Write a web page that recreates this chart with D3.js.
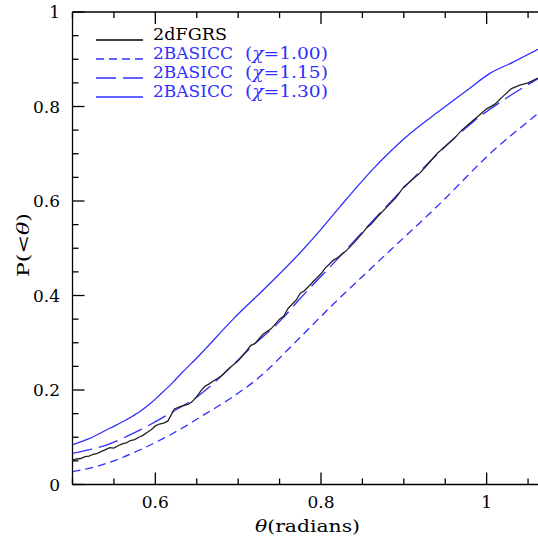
<!DOCTYPE html>
<html>
<head>
<meta charset="utf-8">
<script src="https://cdn.jsdelivr.net/npm/d3@7"></script>
<style>
  html, body { margin: 0; padding: 0; background: #fff; }
  svg { display: block; }
  text { font-family: "DejaVu Serif", serif; }
</style>
</head>
<body>
<svg id="chart" width="538" height="542"></svg>
<script>
// ---------------- data ----------------
const obsTheta = [0.500,0.505,0.510,0.515,0.520,0.525,0.530,0.535,0.540,0.545,0.550,0.555,0.560,0.565,0.570,0.575,0.580,0.585,0.590,0.595,0.600,0.605,0.610,0.615,0.620,0.623,0.630,0.640,0.645,0.650,0.655,0.660,0.665,0.670,0.675,0.680,0.690,0.700,0.710,0.715,0.720,0.730,0.740,0.750,0.755,0.760,0.770,0.775,0.780,0.790,0.800,0.805,0.810,0.815,0.820,0.830,0.840,0.850,0.855,0.860,0.870,0.880,0.890,0.900,0.910,0.920,0.930,0.940,0.950,0.960,0.970,0.980,0.990,1.000,1.010,1.020,1.030,1.040,1.050,1.062];
const obsP = [0.052,0.054,0.055,0.059,0.060,0.064,0.066,0.070,0.074,0.078,0.077,0.082,0.086,0.088,0.093,0.095,0.100,0.104,0.110,0.116,0.124,0.128,0.130,0.134,0.150,0.160,0.165,0.170,0.176,0.186,0.198,0.208,0.213,0.219,0.224,0.230,0.247,0.262,0.282,0.294,0.298,0.318,0.330,0.350,0.356,0.372,0.390,0.405,0.410,0.428,0.446,0.458,0.466,0.475,0.480,0.494,0.512,0.532,0.543,0.550,0.570,0.588,0.606,0.630,0.645,0.660,0.680,0.700,0.716,0.731,0.750,0.765,0.780,0.795,0.805,0.822,0.838,0.845,0.850,0.860];

const chi100Theta = [0.500,0.540,0.581,0.621,0.661,0.693,0.722,0.774,0.815,0.859,0.879,0.944,1.004,1.062];
const chi100P     = [0.027,0.044,0.073,0.108,0.150,0.185,0.222,0.310,0.382,0.455,0.488,0.595,0.700,0.785];

const chi115Theta = [0.500,0.540,0.581,0.621,0.653,0.693,0.714,0.754,0.774,0.815,0.855,0.903,0.944,0.984,1.024,1.062];
const chi115P     = [0.066,0.083,0.115,0.154,0.189,0.252,0.288,0.352,0.392,0.468,0.544,0.633,0.705,0.768,0.818,0.859];

const chi130Theta = [0.500,0.520,0.545,0.565,0.581,0.595,0.605,0.620,0.633,0.653,0.661,0.694,0.734,0.774,0.800,0.823,0.863,0.903,0.944,0.976,1.004,1.032,1.062];
const chi130P     = [0.084,0.097,0.119,0.137,0.154,0.173,0.189,0.214,0.238,0.273,0.288,0.350,0.418,0.489,0.540,0.588,0.668,0.736,0.792,0.834,0.870,0.894,0.921];

const xMajorTicks = [0.6, 0.8, 1.0];
const xTickLabels = ["0.6", "0.8", "1"];
const yMajorTicks = [0, 0.2, 0.4, 0.6, 0.8, 1.0];
const yTickLabels = ["0", "0.2", "0.4", "0.6", "0.8", "1"];

const legendLabels = ["2dFGRS", "2BASICC", "2BASICC", "2BASICC"];
const legendChi = [null, "1.00", "1.15", "1.30"];

// ---------------- layout ----------------
const BLUE = "#2f2fff";
const svg = d3.select("#chart");
const pL = 72.5, pR = 538, pT = 12, pB = 484.5;
const x = d3.scaleLinear().domain([0.5, 1.062]).range([pL, pR]);
const y = d3.scaleLinear().domain([0, 1]).range([pB, pT]);

svg.append("defs").append("clipPath").attr("id", "clip")
  .append("rect").attr("x", pL).attr("y", pT).attr("width", pR - pL).attr("height", pB - pT);

// frame
const frame = svg.append("g").attr("stroke", "#000").attr("stroke-width", 1.3).attr("fill", "none");
frame.append("line").attr("x1", pL).attr("x2", pR).attr("y1", pB).attr("y2", pB);
frame.append("line").attr("x1", pL).attr("x2", pR).attr("y1", pT).attr("y2", pT);
frame.append("line").attr("x1", pL).attr("x2", pL).attr("y1", pT).attr("y2", pB);

// ticks
const xMinor = d3.range(0.5, 1.0621, 0.05).map(v => +v.toFixed(2)).filter(v => !xMajorTicks.some(m => Math.abs(m - v) < 1e-6));
const yMinor = d3.range(0, 1.0001, 0.05).map(v => +v.toFixed(2)).filter(v => !yMajorTicks.some(m => Math.abs(m - v) < 1e-6));
const tg = svg.append("g").attr("stroke", "#000").attr("stroke-width", 1.3);
function xTick(v, len) {
  tg.append("line").attr("x1", x(v)).attr("x2", x(v)).attr("y1", pB).attr("y2", pB - len);
  tg.append("line").attr("x1", x(v)).attr("x2", x(v)).attr("y1", pT).attr("y2", pT + len);
}
function yTick(v, len) {
  tg.append("line").attr("x1", pL).attr("x2", pL + len).attr("y1", y(v)).attr("y2", y(v));
}
xMajorTicks.forEach(v => xTick(v, 12));
xMinor.forEach(v => xTick(v, 6));
yMajorTicks.forEach(v => yTick(v, 12));
yMinor.forEach(v => yTick(v, 6));

// tick labels
svg.append("g").selectAll("text").data(xMajorTicks).join("text")
  .attr("x", d => x(d)).attr("y", 508).attr("text-anchor", "middle")
  .attr("font-size", 17).text((d, i) => xTickLabels[i]);
svg.append("g").selectAll("text").data(yMajorTicks).join("text")
  .attr("x", 60).attr("y", d => y(d) + 6).attr("text-anchor", "end")
  .attr("font-size", 17).text((d, i) => yTickLabels[i]);

// axis titles
const xt = svg.append("text").attr("x", 255).attr("y", 532).attr("font-size", 17)
  .attr("textLength", 105).attr("lengthAdjust", "spacingAndGlyphs");
xt.append("tspan").attr("font-style", "italic").text("θ");
xt.append("tspan").text("(radians)");
const yt = svg.append("text").attr("transform", "translate(29,277) rotate(-90)").attr("font-size", 17)
  .attr("textLength", 64).attr("lengthAdjust", "spacingAndGlyphs");
yt.append("tspan").text("P(<");
yt.append("tspan").attr("font-style", "italic").text("θ");
yt.append("tspan").text(")");

// curves
const plot = svg.append("g").attr("clip-path", "url(#clip)");
function addCurve(xs, ys, color, dash, curve) {
  const pts = xs.map((t, i) => [t, ys[i]]);
  plot.append("path").datum(pts)
    .attr("d", d3.line().x(d => x(d[0])).y(d => y(d[1])).curve(curve))
    .attr("fill", "none").attr("stroke", color).attr("stroke-width", 1.3)
    .attr("stroke-dasharray", dash);
}
addCurve(chi100Theta, chi100P, BLUE, "8,5", d3.curveMonotoneX);
addCurve(chi115Theta, chi115P, BLUE, "20,7", d3.curveMonotoneX);
addCurve(chi130Theta, chi130P, BLUE, null, d3.curveMonotoneX);
addCurve(obsTheta, obsP, "#222", null, d3.curveLinear);

// legend
const legColors = ["#000", BLUE, BLUE, BLUE];
const legDash = [null, "8,5", "20,7", null];
const legY = [40, 59, 78, 97];
const lg = svg.append("g");
legendLabels.forEach((lab, i) => {
  lg.append("line").attr("x1", 96).attr("x2", 143).attr("y1", legY[i]).attr("y2", legY[i])
    .attr("stroke", legColors[i]).attr("stroke-width", 1.3).attr("stroke-dasharray", legDash[i]);
  lg.append("text").attr("x", 153).attr("y", legY[i]).attr("font-size", 17)
    .attr("fill", legColors[i])
    .attr("textLength", legendChi[i] === null ? 74 : 80).attr("lengthAdjust", "spacingAndGlyphs")
    .text(lab);
  if (legendChi[i] !== null) {
    const t = lg.append("text").attr("x", 245).attr("y", legY[i]).attr("font-size", 17)
      .attr("fill", legColors[i])
      .attr("textLength", 83).attr("lengthAdjust", "spacingAndGlyphs");
    t.append("tspan").text("(");
    t.append("tspan").attr("font-style", "italic").text("χ");
    t.append("tspan").text("=" + legendChi[i] + ")");
  }
});
</script>
</body>
</html>
